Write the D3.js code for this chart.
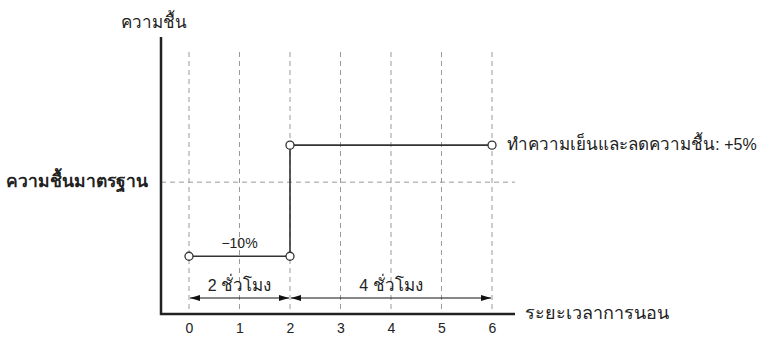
<!DOCTYPE html>
<html>
<head>
<meta charset="utf-8">
<script src="https://cdn.jsdelivr.net/npm/d3@7"></script>
<style>
  body { margin: 0; background: #fff; }
  text { font-family: "Liberation Sans", Arial, "Noto Sans", sans-serif; fill: #222; }
</style>
</head>
<body>
<svg id="chart"></svg>
<script>
// hours of sleep on the x axis
var hours = [0, 1, 2, 3, 4, 5, 6]
// humidity change (%) relative to the standard level
var stepX = [0, 2, 2, 6]
var stepY = [-10, -10, 5, 5]
var spans = [
  {from: 0, to: 2, num: "2 ", label: "ชั่วโมง"},
  {from: 2, to: 6, num: "4 ", label: "ชั่วโมง"}
]
var lowLabel = "−10%"
var highLabel = "ทำความเย็นและลดความชื้น:"
var highValue = " +5%"
var yTitle = "ความชื้น"
var xTitle = "ระยะเวลาการนอน"
var standardLabel = "ความชื้นมาตรฐาน"

var width = 770, height = 344
var svg = d3.select("#chart").attr("width", width).attr("height", height)

var x = d3.scaleLinear().domain([0, 6]).range([189, 492])
var y = d3.scaleLinear().domain([-17.8, 19.6]).range([314, 37])
var axisLeft = 161, axisRight = 515

var defs = svg.append("defs")
defs.append("marker")
    .attr("id", "arrow")
    .attr("viewBox", "0 0 10 6")
    .attr("refX", 10).attr("refY", 3)
    .attr("markerWidth", 10).attr("markerHeight", 6)
    .attr("markerUnits", "userSpaceOnUse")
    .attr("orient", "auto-start-reverse")
  .append("path")
    .attr("d", "M0,0L10,3L0,6Z")
    .attr("fill", "#111")

// dashed grid
svg.append("g")
    .selectAll("line")
    .data(hours)
    .join("line")
      .attr("x1", d => x(d)).attr("x2", d => x(d))
      .attr("y1", 52).attr("y2", y(-17.8))
      .attr("stroke", "#9a9a9a")
      .attr("stroke-width", 1)
      .attr("stroke-dasharray", "5,4")

svg.append("line")
    .attr("x1", axisLeft).attr("x2", axisRight)
    .attr("y1", y(0)).attr("y2", y(0))
    .attr("stroke", "#9a9a9a")
    .attr("stroke-dasharray", "5,4")

// axes
var xAxis = svg.append("g")
    .attr("transform", `translate(0,${y(-17.8)})`)
    .call(d3.axisBottom(x).tickValues(hours).tickFormat(d3.format("d")).tickSize(0).tickPadding(9))
xAxis.attr("font-size", 14).attr("font-family", null)
xAxis.select(".domain").remove()
xAxis.selectAll("text").style("font-size", "14px").attr("fill", "#222")

svg.append("path")
    .attr("d", `M${axisLeft},${y(19.6)}V${y(-17.8)}H${axisRight}`)
    .attr("fill", "none")
    .attr("stroke", "#222")
    .attr("stroke-width", 2.5)

// step line
var pts = stepX.map((d, i) => [x(d), y(stepY[i])])
svg.append("path")
    .attr("d", d3.line()(pts))
    .attr("fill", "none")
    .attr("stroke", "#333")
    .attr("stroke-width", 1.6)

svg.append("g")
    .selectAll("circle")
    .data(pts)
    .join("circle")
      .attr("cx", d => d[0]).attr("cy", d => d[1])
      .attr("r", 4)
      .attr("fill", "#fff")
      .attr("stroke", "#333")
      .attr("stroke-width", 1.3)

// duration arrows
var arrowY = 298
var sg = svg.append("g").selectAll("g").data(spans).join("g")
sg.append("line")
    .attr("x1", d => x(d.from) + 1).attr("x2", d => x(d.to) - 1)
    .attr("y1", arrowY).attr("y2", arrowY)
    .attr("stroke", "#111")
    .attr("stroke-width", 1.2)
    .attr("marker-start", "url(#arrow)")
    .attr("marker-end", "url(#arrow)")
var st = sg.append("text")
    .attr("x", d => x((d.from + d.to) / 2))
    .attr("y", 291)
    .attr("text-anchor", "middle")
    .style("font-size", "16px")
st.append("tspan").text(d => d.num)
st.append("tspan").style("font-size", "17px").text(d => d.label)

// labels
svg.append("text")
    .attr("x", x(1)).attr("y", y(-10) - 8)
    .attr("text-anchor", "middle")
    .style("font-size", "14px")
    .text(lowLabel)

var hl = svg.append("text")
    .attr("x", x(6) + 15).attr("y", y(5) + 5)
    .style("font-size", "17px")
hl.append("tspan").text(highLabel)
hl.append("tspan").style("font-size", "16px").text(highValue)

svg.append("text")
    .attr("x", 154).attr("y", 28)
    .attr("text-anchor", "middle")
    .style("font-size", "17px")
    .text(yTitle)

svg.append("text")
    .attr("x", 148).attr("y", y(0) + 5)
    .attr("text-anchor", "end")
    .style("font-size", "17.5px")
    .style("font-weight", "bold")
    .text(standardLabel)

svg.append("text")
    .attr("x", 525).attr("y", y(-17.8) + 5)
    .style("font-size", "18px")
    .text(xTitle)
</script>
</body>
</html>
